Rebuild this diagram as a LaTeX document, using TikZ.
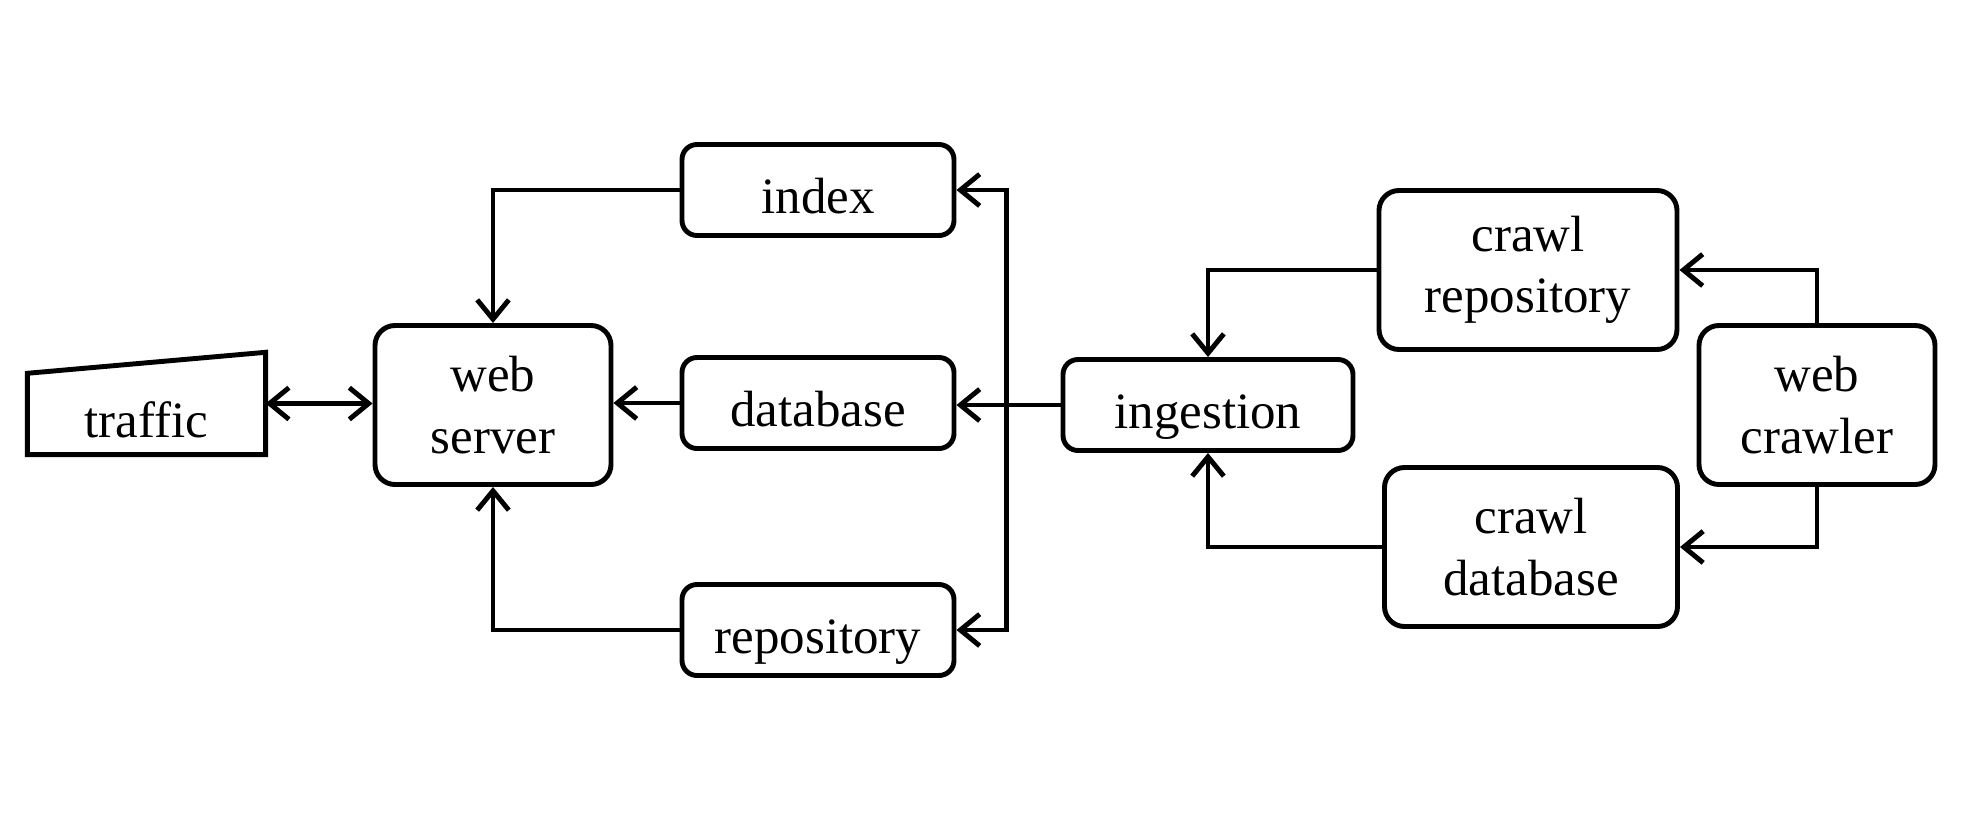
\documentclass[tikz,border=0pt]{standalone}
\usepackage{fontspec}
\setmainfont{Liberation Serif}
\usetikzlibrary{positioning,calc,arrows.meta}
\tikzset{>={Straight Barb[length=5.5pt,width=9pt]}}
\tikzstyle{block} = [draw, line width=1.4pt, rounded corners=0.15cm,
minimum height=0.91cm, align=center, font=\fontsize{14.5}{17.4}\selectfont]
\tikzstyle{line} = [draw, line width=1.4pt, ->]

\begin{document}
\begin{tikzpicture}[auto,
single/.style={block, text height=13.6pt, text depth=0pt},
double/.style={block, minimum height=1.59cm, rounded corners=0.2cm},
store/.style={single, minimum width=2.72cm}]
\useasboundingbox (0,0) rectangle (19.77,8.16);
%% Front end
\node [minimum width=2.37cm, minimum height=1.01cm, inner sep=0pt,
label={[font=\fontsize{14.5}{17.4}\selectfont, yshift=-1.6mm]center:traffic}] (traffic) at (1.465,4.125) {};
\draw [line width=1.4pt] (traffic.south west) -- (traffic.south east) -- (traffic.north east)
-- ($(traffic.north west)+(0,-0.21)$) -- cycle;
\node [double, minimum width=2.36cm] (server) at (4.93,4.11) {web\\server};
\node [store] (index) at (8.18,6.26) {index};
\node [store] (database) at (8.18,4.13) {database};
\node [store] (repository) at (8.18,1.86) {repository};
%% Crawl side
\node [single, minimum width=2.90cm] (ingestion) at (12.08,4.11) {ingestion};
\node [double, minimum width=2.98cm] (crawlrepo) at (15.28,5.46) {crawl\\repository};
\node [double, minimum width=2.93cm] (crawldb) at (15.31,2.69) {crawl\\database};
\node [double, minimum width=2.36cm] (crawler) at (18.17,4.11) {web\\crawler};
\coordinate (bus) at ($(ingestion.west)+(-0.54,0)$);
%% Serving
\path [line, <->] (traffic.east) -- (traffic.east -| server.west);
\path [line] (index.west) -| (server.north);
\path [line] (database.west) -- (database.west -| server.east);
\path [line] (repository.west) -| (server.south);
%% Ingestion
\path [line] (ingestion.west) -- (ingestion.west -| database.east);
\path [line] (bus) |- (index.east);
\path [line] (bus) |- (repository.east);
\path [line] (crawlrepo.west) -| (ingestion.north);
\path [line] (crawldb.west) -| (ingestion.south);
%% Crawling
\path [line] (crawler.north) |- (crawlrepo.east);
\path [line] (crawler.south) |- (crawldb.east);
\end{tikzpicture}
\end{document}
